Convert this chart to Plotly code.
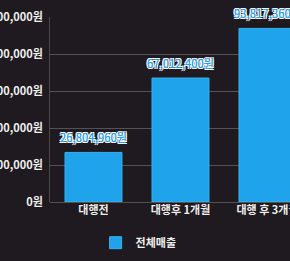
import plotly.graph_objects as go

categories = ["대행전", "대행후 1개월", "대행 후 3개월"]
sales = [26804960, 67012400, 93817360]
tick_vals = [0, 20000000, 40000000, 60000000, 80000000, 100000000]
tick_text = ["0원", "20,000,000원", "40,000,000원", "60,000,000원", "80,000,000원", "100,000,000원"]
series_name = "전체매출"

labels = [f"{v:,}원" for v in sales]

FONT = "Noto Sans CJK KR"
BG = "#1e1a1f"
BAR = "#1fa3ea"

fig = go.Figure()
fig.add_trace(go.Bar(
    x=categories, y=sales, name=series_name,
    marker=dict(color=BAR, line=dict(color="#3ab0f0", width=1)),
    hoverinfo="skip",
))

for c, v, t in zip(categories, sales, labels):
    fig.add_annotation(
        x=c, y=v, text=t, showarrow=False, yanchor="bottom", yshift=5,
        font=dict(family=FONT, size=11, color="#1e9ff0", weight=500,
                  shadow="-1px -1px 0 #fff, 1px -1px 0 #fff, -1px 1px 0 #fff, 1px 1px 0 #fff"),
    )

fig.update_layout(
    width=290, height=261,
    margin=dict(l=50, r=0, t=17, b=59, pad=0),
    paper_bgcolor=BG, plot_bgcolor=BG,
    template="none",
    bargap=0.345,
    showlegend=True,
    font=dict(family=FONT, size=11, color="#f0f0f0"),
    legend=dict(orientation="h", x=0.19, xanchor="left", y=-0.22, yanchor="middle",
                font=dict(family=FONT, size=11, color="#f0f0f0", weight="bold"),
                bgcolor="rgba(0,0,0,0)"),
    xaxis=dict(range=[-0.5, 2.259], automargin=False, showgrid=False, showline=False,
               zeroline=False, ticks="", tickfont=dict(family=FONT, size=11, color="#f0f0f0", weight="bold")),
    yaxis=dict(range=[0, 100000000], automargin=False, tickvals=tick_vals, ticktext=tick_text,
               showgrid=True, gridcolor="#555255", gridwidth=1, zeroline=True, zerolinecolor="#555255",
               showline=True, linecolor="#4a474a", linewidth=1, ticks="", ticklabelstandoff=4,
               tickfont=dict(family=FONT, size=11, color="#f0f0f0", weight="bold")),
)

fig.write_html("out.html")
